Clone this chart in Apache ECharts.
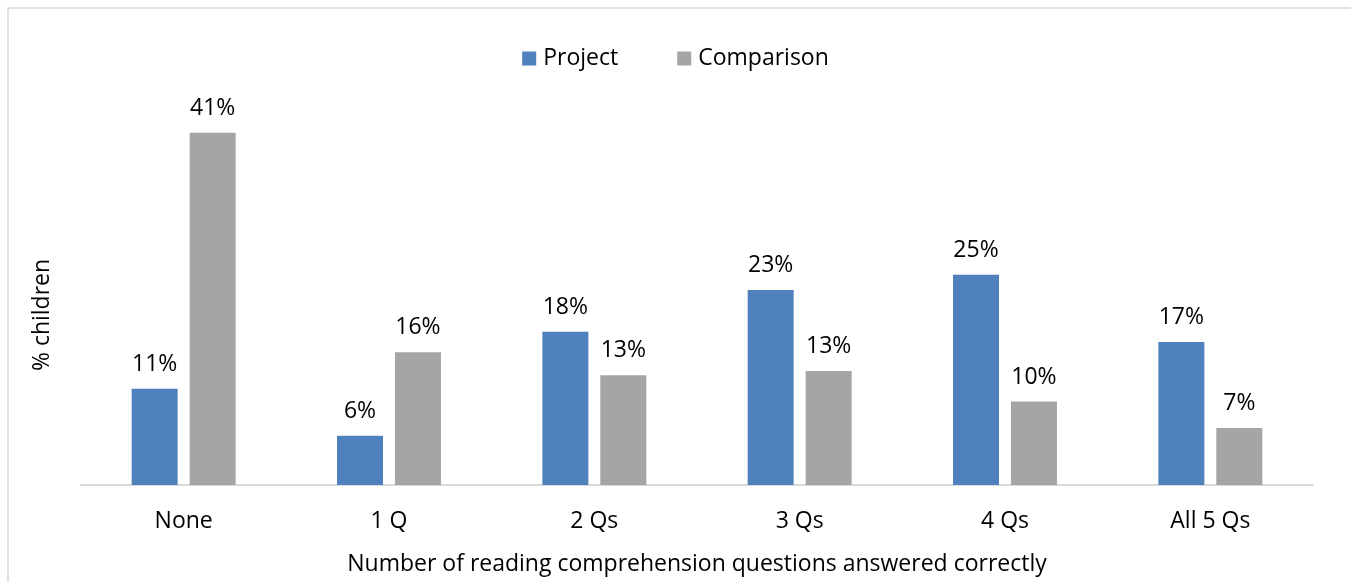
<!DOCTYPE html>
<html>
<head>
<meta charset="utf-8">
<script src="https://cdn.jsdelivr.net/npm/echarts@6/dist/echarts.min.js"></script>
<style>
  html, body { margin: 0; padding: 0; background: #fff; }
  #chart { width: 1351px; height: 582px; }
</style>
</head>
<body>
<div id="chart"></div>
<script>
const categories = ["None", "1 Q", "2 Qs", "3 Qs", "4 Qs", "All 5 Qs"];
const projectValues = [11.3, 5.8, 18.0, 22.9, 24.7, 16.8];
const comparisonValues = [41.4, 15.6, 12.9, 13.4, 9.8, 6.7];

const FONT = "Open Sans";
const FS = 23;
const labelFmt = (p) => Math.round(p.value) + "%";

const chart = echarts.init(document.getElementById("chart"));

const barLabel = {
  show: true,
  position: "top",
  distance: 13,
  formatter: labelFmt,
  color: "#000",
  fontFamily: FONT,
  fontSize: FS,
};

const option = {
  animation: false,
  textStyle: { fontFamily: FONT },
  graphic: [
    {
      type: "rect",
      shape: { x: 8, y: 8, width: 1400, height: 620 },
      style: { fill: "none", stroke: "#d9d9d9", lineWidth: 1.5 },
      silent: true,
    },
    {
      type: "text",
      x: 42,
      y: 315,
      rotation: Math.PI / 2,
      style: {
        text: "% children",
        fontFamily: FONT,
        fontSize: FS,
        fill: "#000",
        align: "center",
        verticalAlign: "middle",
      },
    },
  ],
  legend: {
    data: ["Project", "Comparison"],
    top: 42,
    left: "center",
    icon: "rect",
    itemWidth: 14,
    itemHeight: 14,
    itemGap: 59,
    textStyle: { fontFamily: FONT, fontSize: FS, color: "#000", padding: [0, 0, 0, 2] },
  },
  grid: { left: 81, right: 38, top: 102, bottom: 97 },
  xAxis: {
    type: "category",
    data: categories,
    axisLine: { lineStyle: { color: "#d9d9d9", width: 2 } },
    axisTick: { show: false },
    axisLabel: { color: "#000", fontFamily: FONT, fontSize: FS, margin: 25 },
    name: "Number of reading comprehension questions answered correctly",
    nameLocation: "middle",
    nameGap: 68,
    nameTextStyle: { color: "#000", fontFamily: FONT, fontSize: FS },
  },
  yAxis: {
    type: "value",
    min: 0,
    max: 45,
    interval: 5,
    show: false,
    splitLine: { show: false },
  },
  series: [
    {
      name: "Project",
      type: "bar",
      data: projectValues,
      barWidth: 46,
      barGap: "26%",
      itemStyle: { color: "#4f81bd" },
      label: barLabel,
    },
    {
      name: "Comparison",
      type: "bar",
      data: comparisonValues,
      barWidth: 46,
      itemStyle: { color: "#a5a5a5" },
      label: barLabel,
    },
  ],
};

chart.setOption(option);
</script>
</body>
</html>
